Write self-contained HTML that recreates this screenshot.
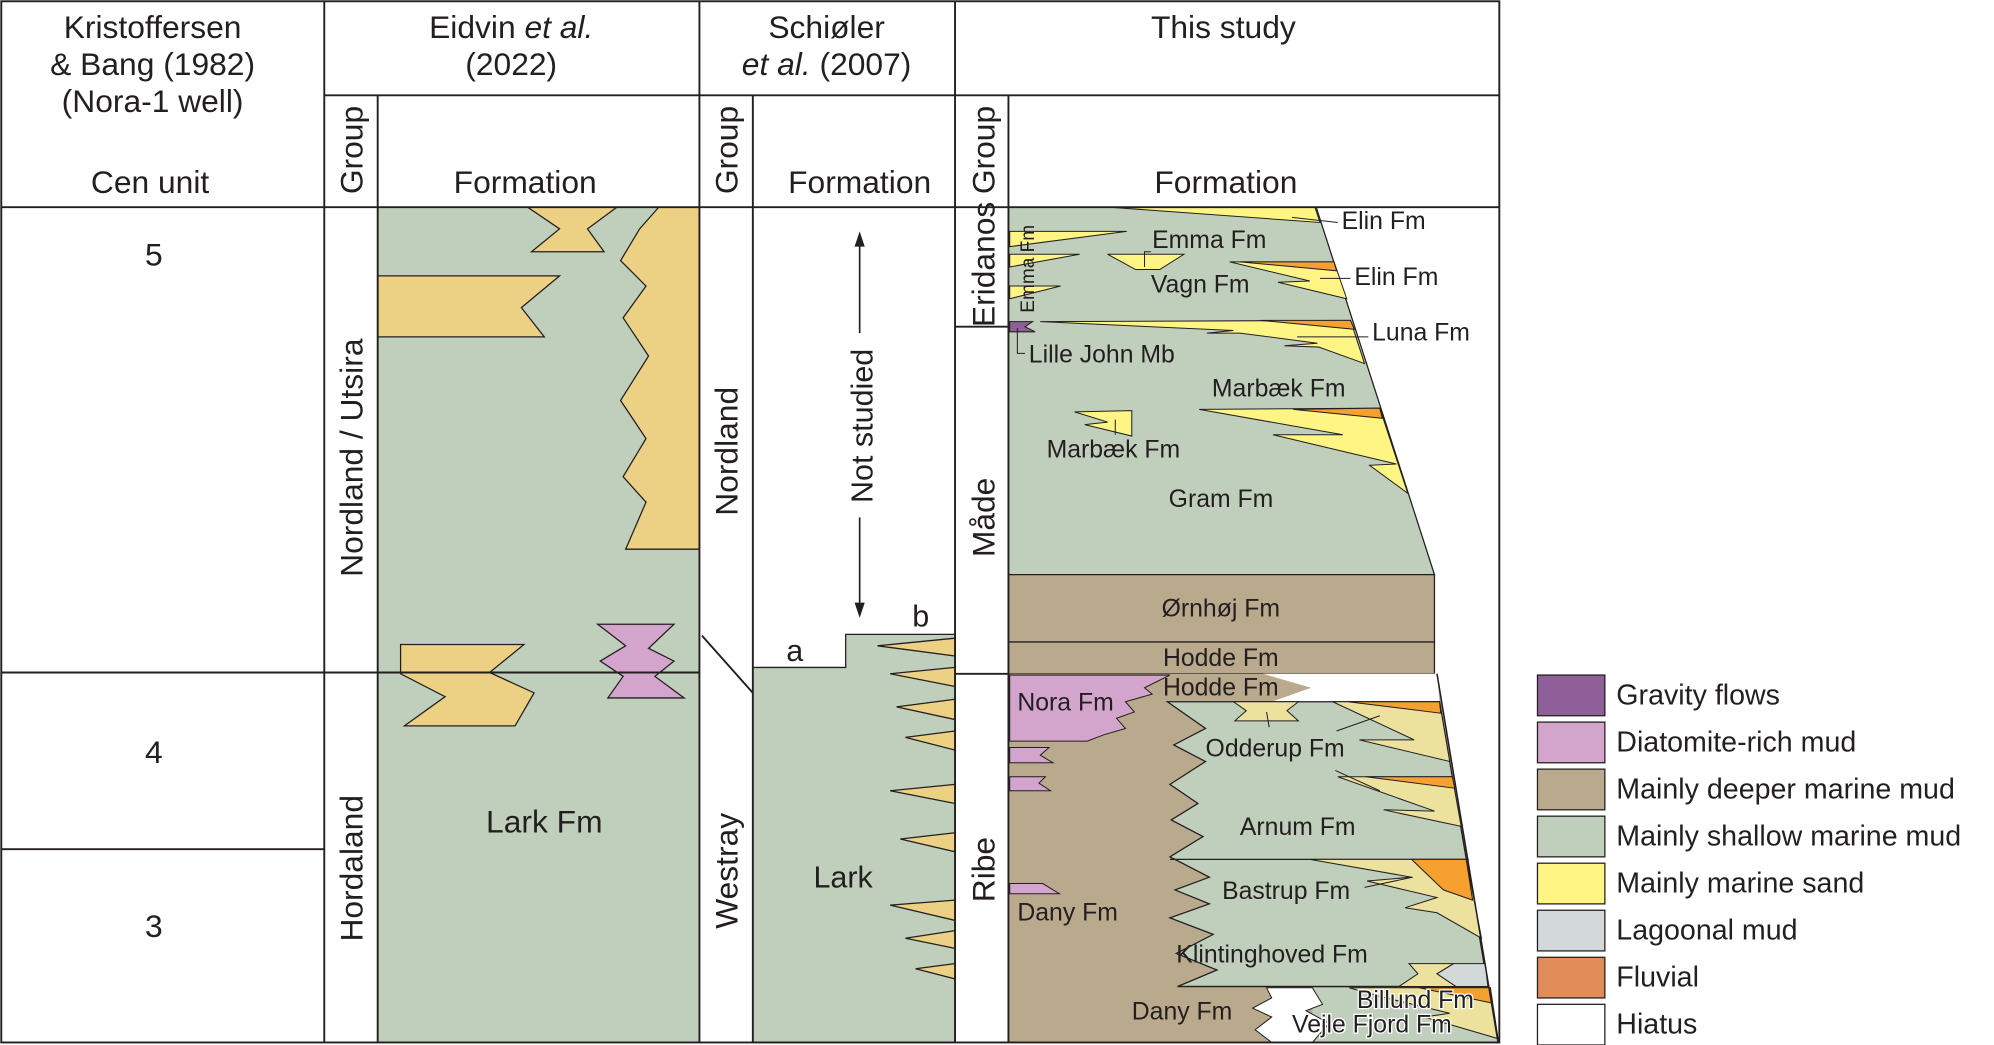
<!DOCTYPE html>
<html><head><meta charset="utf-8"><style>
html,body{margin:0;padding:0;background:#fff;}
svg{display:block;}
text{font-family:"Liberation Sans",sans-serif;fill:#231f20;}
</style></head><body>
<svg width="1994" height="1045" viewBox="0 0 1568 822" preserveAspectRatio="none" xmlns="http://www.w3.org/2000/svg">
<rect width="1568" height="822" fill="#fff"/>
<rect x="297" y="163" width="253" height="657" fill="#c0cfbc"/>
<polygon points="518,163 550,163 550,432 492,432 508,395 490,375 508,345 488,315 510,280 490,250 508,225 488,205 503,180" fill="#ecd083" stroke="#231f20" stroke-width="1"/>
<polygon points="297,217 440,217 410,242 428,265 297,265" fill="#ecd083" stroke="#231f20" stroke-width="1"/>
<polygon points="415,163 485,163 462,180 475,198 418,198 440,180" fill="#ecd083" stroke="#231f20" stroke-width="1"/>
<polygon points="315,507 412,507 385,529 420,545 405,571 318,571 350,548 315,530" fill="#ecd083" stroke="#231f20" stroke-width="1"/>
<polygon points="470,491 530,491 510,510 530,520 515,532 538,549 478,549 490,532 472,520 492,508" fill="#d4a5cc" stroke="#231f20" stroke-width="1"/>
<polygon points="592,525 665,525 665,499 751,499 751,820 592,820" fill="#c0cfbc" stroke="#231f20" stroke-width="1"/>
<g fill="#ecd083" stroke="#231f20" stroke-width="1">
<polygon points="751,502 690,508 751,516"/>
<polygon points="751,525 700,530 751,540"/>
<polygon points="751,550 705,556 751,566"/>
<polygon points="751,575 712,580 751,590"/>
<polygon points="751,617 700,622 751,632"/>
<polygon points="751,655 708,660 751,670"/>
<polygon points="751,708 700,712 751,724"/>
<polygon points="751,732 712,738 751,746"/>
<polygon points="751,758 720,762 751,770"/>
</g>
<line x1="676" y1="190" x2="676" y2="480" stroke="#231f20" stroke-width="1.3"/>
<polygon points="676,182 672,194 680,194" fill="#231f20"/>
<polygon points="676,486 672,474 680,474" fill="#231f20"/>
<rect x="664" y="262" width="26" height="145" fill="#fff"/>
<text x="0" y="0" font-size="24" text-anchor="middle" transform="translate(686,335) rotate(-90)">Not studied</text>
<text x="625" y="520" font-size="24" text-anchor="middle">a</text>
<text x="724" y="493" font-size="24" text-anchor="middle">b</text>
<text x="663" y="698" font-size="24" text-anchor="middle">Lark</text>
<polygon points="793,163 1035,163 1128,452 793,452" fill="#c0cfbc" stroke="#231f20" stroke-width="1"/>
<g stroke="#231f20" stroke-width="0.8">
<polygon points="873,163 1034,163 1038,175" fill="#fff585"/>
<polygon points="794,182 886,182 794,194" fill="#fff585"/>
<polygon points="794,200 849,200 794,210" fill="#fff585"/>
<polygon points="794,225 834,225 794,235" fill="#fff585"/>
<polygon points="871,200 931,200 912,212 893,212" fill="#fff585"/>
<polygon points="967,206 1049,206 1059,235 1005,222 1030,221" fill="#fff585"/>
<polygon points="975,206 1049,206 1051,213" fill="#f5a02f"/>
<polygon points="818,253 1062,252 1073,286 1037,273 1010,272 1036,270 975,262 949,262 970,260" fill="#fff585"/>
<polygon points="991,252 1062,252 1065,259" fill="#f5a02f"/>
<polygon points="794,253 812,253 806,257 814,261 794,261" fill="#8f5f99"/>
<polygon points="943,322 1085,321 1107,388 1077,366 1098,365 1001,342 1056,342" fill="#fff585"/>
<polygon points="1017,322 1085,321 1087,329" fill="#f5a02f"/>
<polygon points="845,324 890,323 890,343 853,334 871,332" fill="#fff585"/>
</g>
<rect x="793" y="452" width="335" height="53" fill="#b9a98d" stroke="#231f20" stroke-width="1"/>
<rect x="793" y="505" width="335" height="25" fill="#b9a98d" stroke="#231f20" stroke-width="1"/>
<polygon points="793,530 1130,530 1178,820 793,820" fill="#b9a98d"/>
<polygon points="993,530 1130,530 1132,552 1000,552 1031,541" fill="#fff"/>
<polygon points="918,552 1132,552 1170,776 926,776 957,763 925,750 954,735 920,722 951,711 924,700 951,690 920,674 946,658 921,645 942,632 920,617 948,599 923,586 948,573" fill="#c0cfbc" stroke="#231f20" stroke-width="1"/>
<polygon points="1032,777 1170,777 1178,820 1032,820" fill="#c0cfbc"/>
<polygon points="996,777 1032,777 1040,790 1027,795 1045,805 1032,820 1000,820 987,810 1000,800 985,793 1000,785" fill="#fff" stroke="#231f20" stroke-width="0.8"/>
<line x1="920" y1="676" x2="1155" y2="676" stroke="#231f20" stroke-width="1"/>
<line x1="926" y1="776" x2="1170" y2="776" stroke="#231f20" stroke-width="1"/>
<g stroke="#231f20" stroke-width="0.8">
<polygon points="794,531 920,531 900,541 906,546 885,552 892,560 878,565 885,573 868,578 855,583 794,583" fill="#d4a5cc"/>
<polygon points="794,588 825,588 818,594 828,600 794,600" fill="#d4a5cc"/>
<polygon points="794,611 822,611 817,616 826,622 794,622" fill="#d4a5cc"/>
<polygon points="794,695 820,695 833,703 794,703" fill="#d4a5cc"/>
<polygon points="970,552 1021,552 1012,559 1021,567 971,567 980,559" fill="#ece29e"/>
<polygon points="1048,552 1132,552 1140,599 1069,582 1112,582" fill="#ece29e"/>
<polygon points="1060,552 1132,552 1133,561" fill="#f5a02f"/>
<polygon points="1052,611 1142,611 1149,650 1088,637 1128,638" fill="#ece29e"/>
<polygon points="1074,611 1142,611 1144,620" fill="#f5a02f"/>
<polygon points="1030,676 1153,676 1165,738 1130,718 1105,714 1130,706 1075,693 1110,690" fill="#ece29e"/>
<polygon points="1110,676 1153,676 1158,708 1135,700" fill="#f5a02f"/>
<polygon points="1108,758 1143,758 1130,766 1145,776 1100,776 1115,766" fill="#ece29e"/>
<polygon points="1143,758 1168,758 1170,776 1145,776 1130,766" fill="#d3d9d9"/>
<polygon points="1061,777 1172,777 1178,817 1120,800 1140,797 1090,785" fill="#ece29e"/>
<polygon points="1116,777 1172,777 1173,789" fill="#f5a02f"/>
</g>
<line x1="1130" y1="530" x2="1178" y2="820" stroke="#231f20" stroke-width="1.2"/>
<g stroke="#231f20" stroke-width="0.8" fill="none">
<line x1="1016" y1="171" x2="1052" y2="175"/>
<line x1="1038" y1="219" x2="1062" y2="219"/>
<line x1="1020" y1="265" x2="1076" y2="265"/>
<polyline points="800,258 800,278 806,278"/>
<polyline points="900,210 900,198 905,198"/>
<line x1="877" y1="330" x2="877" y2="342"/>
<line x1="996" y1="560" x2="998" y2="572"/>
<line x1="1085" y1="563" x2="1051" y2="575"/>
<line x1="1085" y1="622" x2="1050" y2="606"/>
<line x1="1111" y1="690" x2="1073" y2="698"/>
</g>
<g font-size="19.5">
<text x="1055" y="180">Elin Fm</text>
<text x="1065" y="224">Elin Fm</text>
<text x="1079" y="268">Luna Fm</text>
<text x="809" y="285">Lille John Mb</text>
<text x="906" y="195">Emma Fm</text>
<text x="905" y="230">Vagn Fm</text>
<text x="953" y="312">Marbæk Fm</text>
<text x="823" y="360">Marbæk Fm</text>
<text x="919" y="399">Gram Fm</text>
<text x="960" y="485" text-anchor="middle">Ørnhøj Fm</text>
<text x="960" y="524" text-anchor="middle">Hodde Fm</text>
<text x="960" y="547" text-anchor="middle">Hodde Fm</text>
<text x="800" y="559">Nora Fm</text>
<text x="948" y="595">Odderup Fm</text>
<text x="975" y="657">Arnum Fm</text>
<text x="961" y="707">Bastrup Fm</text>
<text x="925" y="757">Klintinghoved Fm</text>
<text x="800" y="724">Dany Fm</text>
<text x="890" y="802">Dany Fm</text>
<text x="1067" y="793" style="fill:#231f20;stroke:#fff;stroke-width:2;paint-order:stroke">Billund Fm</text>
<text x="1016" y="812" style="fill:#231f20;stroke:#fff;stroke-width:2;paint-order:stroke">Vejle Fjord Fm</text>
</g>
<text x="0" y="0" font-size="15" transform="translate(813,246) rotate(-90)">Emma Fm</text>
<text x="428" y="655" font-size="25" text-anchor="middle">Lark Fm</text>
<g stroke="#231f20" stroke-width="1.5" fill="none">
<rect x="1" y="1" width="1178" height="819"/>
<line x1="255" y1="1" x2="255" y2="820"/>
<line x1="550" y1="1" x2="550" y2="820"/>
<line x1="751" y1="1" x2="751" y2="820"/>
<line x1="297" y1="75" x2="297" y2="820"/>
<line x1="592" y1="75" x2="592" y2="820"/>
<line x1="793" y1="75" x2="793" y2="820"/>
<line x1="255" y1="75" x2="1179" y2="75"/>
<line x1="1" y1="163" x2="1179" y2="163"/>
<line x1="1" y1="529" x2="550" y2="529"/>
<line x1="1" y1="668" x2="255" y2="668"/>
<line x1="552" y1="500" x2="592" y2="545"/>
<line x1="751" y1="257" x2="793" y2="257"/>
<line x1="751" y1="530" x2="793" y2="530"/>
</g>
<g font-size="25" text-anchor="middle">
<text x="120" y="30">Kristoffersen</text>
<text x="120" y="59">&amp; Bang (1982)</text>
<text x="120" y="88">(Nora-1 well)</text>
<text x="118" y="152">Cen unit</text>
<text x="402" y="30">Eidvin <tspan font-style="italic">et al.</tspan></text>
<text x="402" y="59">(2022)</text>
<text x="650" y="30">Schiøler</text>
<text x="650" y="59"><tspan font-style="italic">et al.</tspan> (2007)</text>
<text x="962" y="30">This study</text>
<text x="413" y="152">Formation</text>
<text x="676" y="152">Formation</text>
<text x="964" y="152">Formation</text>
<text x="121" y="209">5</text>
<text x="121" y="600">4</text>
<text x="121" y="737">3</text>
</g>
<g font-size="25" text-anchor="middle">
<text transform="translate(285,118) rotate(-90)">Group</text>
<text transform="translate(580,118) rotate(-90)">Group</text>
<text transform="translate(782,118) rotate(-90)">Group</text>
<text transform="translate(285,360) rotate(-90)">Nordland / Utsira</text>
<text transform="translate(285,683) rotate(-90)">Hordaland</text>
<text transform="translate(580,355) rotate(-90)">Nordland</text>
<text transform="translate(580,685) rotate(-90)">Westray</text>
<text transform="translate(782,208) rotate(-90)">Eridanos</text>
<text transform="translate(782,407) rotate(-90)">Måde</text>
<text transform="translate(782,684) rotate(-90)">Ribe</text>
</g>
<g stroke="#231f20" stroke-width="1">
<rect x="1209" y="531" width="53" height="32" fill="#8f5f99"/>
<rect x="1209" y="568" width="53" height="32" fill="#d4a5cc"/>
<rect x="1209" y="605" width="53" height="32" fill="#b9a98d"/>
<rect x="1209" y="642" width="53" height="32" fill="#c0cfbc"/>
<rect x="1209" y="679" width="53" height="32" fill="#fff585"/>
<rect x="1209" y="716" width="53" height="32" fill="#d3d9d9"/>
<rect x="1209" y="753" width="53" height="32" fill="#e08c58"/>
<rect x="1209" y="790" width="53" height="32" fill="#fff"/>
</g>
<g font-size="22.5">
<text x="1271" y="554">Gravity flows</text>
<text x="1271" y="591">Diatomite-rich mud</text>
<text x="1271" y="628">Mainly deeper marine mud</text>
<text x="1271" y="665">Mainly shallow marine mud</text>
<text x="1271" y="702">Mainly marine sand</text>
<text x="1271" y="739">Lagoonal mud</text>
<text x="1271" y="776">Fluvial</text>
<text x="1271" y="813">Hiatus</text>
</g>
</svg>
</body></html>
